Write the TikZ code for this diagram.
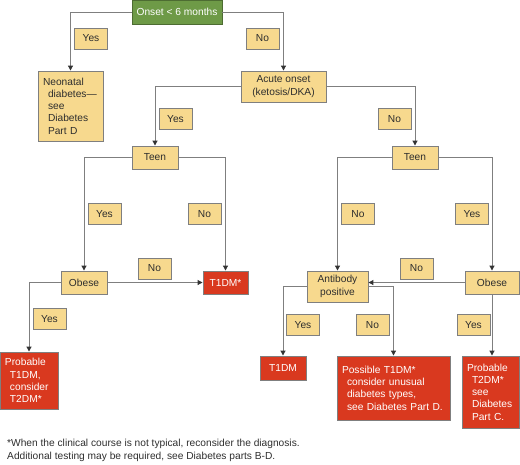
\documentclass[tikz,border=0pt]{standalone}
\usepackage{fontspec}
\setmainfont{Liberation Sans}
\usetikzlibrary{arrows.meta, positioning}

\definecolor{tanfill}{HTML}{F7D98E}
\definecolor{greenfill}{HTML}{6E9A47}
\definecolor{redfill}{HTML}{D9391F}
\definecolor{linegray}{HTML}{7F7F7F}
\definecolor{textgray}{HTML}{2E2E2E}
\newcommand{\ind}{\hspace*{5pt}}

\begin{document}
\begin{tikzpicture}[x=1pt, y=-1pt,
    box/.style={draw=linegray, line width=0.9pt, fill=tanfill, text=textgray, inner sep=0pt,
        font=\fontsize{10.2}{12.3}\selectfont, align=center},
    lbl/.style={box, minimum width=33pt, minimum height=21pt},
    redbox/.style={box, fill=redfill, text=white},
    leftbox/.style={align=left, inner xsep=5pt},
    link/.style={draw=linegray, line width=1pt, -{Triangle[length=5pt,width=5pt,color=black!80]}}]
    \useasboundingbox (0,0) rectangle (520,464);

    % top decision
    \node[box, fill=greenfill, draw=greenfill!70!black, text=white, minimum width=90pt, minimum height=24pt] (onset) at (177,12) {Onset < 6 months};
    \node[lbl] (yesA) at (91,38.5) {Yes};
    \node[lbl] (noA) at (262.5,38.5) {No};
    \node[box, leftbox, text width=55pt, minimum height=70pt] (neo) at (70.5,106) {Neonatal\\\ind diabetes—\\\ind see\\\ind Diabetes\\\ind Part D};
    \node[box, minimum width=85pt, minimum height=31pt] (acute) at (283.5,86.5) {Acute onset\\(ketosis/DKA)};
    \node[lbl] (yesB) at (175.5,119) {Yes};
    \node[lbl] (noB) at (394.5,119) {No};

    % left branch
    \node[box, minimum width=46pt, minimum height=23pt] (teenL) at (155,157.5) {Teen};
    \node[lbl] (yesL) at (104.5,214) {Yes};
    \node[lbl] (noL) at (204.5,214) {No};
    \node[box, minimum width=46pt, minimum height=23pt] (obeseL) at (84,282.5) {Obese};
    \node[redbox, minimum width=45pt, minimum height=23pt] (tstar) at (225.5,282.5) {T1DM*};
    \node[lbl] (noObL) at (154.5,268.5) {No};
    \node[lbl] (yesObL) at (49.5,319) {Yes};
    \node[redbox, leftbox, text width=48pt, minimum height=57pt] (probT1) at (29,380.5) {Probable\\\ind T1DM,\\\ind consider\\\ind T2DM*};

    % right branch
    \node[box, minimum width=46pt, minimum height=23pt] (teenR) at (415,157.5) {Teen};
    \node[lbl] (noR) at (358,214) {No};
    \node[lbl] (yesR) at (472,214) {Yes};
    \node[box, minimum width=61pt, minimum height=31pt] (anti) at (337.5,286.5) {Antibody\\positive};
    \node[box, minimum width=54pt, minimum height=23pt] (obeseR) at (492,282.5) {Obese};
    \node[lbl] (noObR) at (416.5,268.5) {No};
    \node[lbl] (yesAnti) at (303,325) {Yes};
    \node[lbl] (noAnti) at (372.5,325) {No};
    \node[lbl] (yesObR) at (473.5,325) {Yes};
    \node[redbox, minimum width=46pt, minimum height=24pt] (tone) at (283,368) {T1DM};
    \node[redbox, leftbox, text width=103pt, minimum height=64pt] (poss) at (393.5,388) {Possible T1DM*\\\ind consider unusual\\\ind diabetes types,\\\ind see Diabetes Part D.};
    \node[redbox, leftbox, text width=47pt, minimum height=72pt] (probT2) at (490.5,392) {Probable\\\ind T2DM*\\\ind see\\\ind Diabetes\\\ind Part C.};

    % connectors
    \draw[link] (onset.west) -| (neo.north);
    \draw[link] (onset.east) -| (acute.north);
    \draw[link] (acute.west) -| (teenL.north);
    \draw[link] (acute.east) -| (teenR.north);
    \draw[link] (teenL.west) -| (obeseL.north);
    \draw[link] (teenL.east) -| (tstar.north);
    \draw[link] (obeseL.east) -- (tstar.west);
    \draw[link] (obeseL.west) -| (probT1.north);
    \draw[link] (teenR.west) -| (anti.north);
    \draw[link] (teenR.east) -| (obeseR.north);
    \draw[link] (obeseR.west) -- (obeseR.west -| anti.east);
    \draw[link] (anti.west) -| (tone.north);
    \draw[link] (anti.east) -| (poss.north);
    \draw[link] (obeseR.south) -- (obeseR.south |- probT2.north);

    % footnote
    \node[anchor=west, inner sep=0pt, text=textgray, font=\fontsize{10.2}{12.3}\selectfont, align=left] (note) at (7,450.5)
        {*When the clinical course is not typical, reconsider the diagnosis.\\Additional testing may be required, see Diabetes parts B-D.};
\end{tikzpicture}
\end{document}
